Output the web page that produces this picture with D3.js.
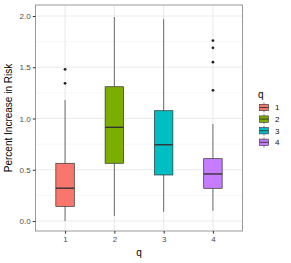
<!DOCTYPE html>
<html>
<head>
<meta charset="utf-8">
<script src="https://cdn.jsdelivr.net/npm/d3@7"></script>
<style>
  body { margin: 0; background: #fff; }
  text { font-family: "Liberation Sans", Arial, sans-serif; font-weight: normal; }
</style>
</head>
<body>
<div id="chart"></div>
<script>
const categories = ['1', '2', '3', '4']
const colors = ['#F8766D', '#7CAE00', '#00BFC4', '#C77CFF']
// five-number summaries: [low whisker, q1, median, q3, high whisker]
const lowWhisker = [0.0, 0.05, 0.09, 0.10]
const q1 = [0.143, 0.563, 0.449, 0.319]
const median = [0.32, 0.914, 0.744, 0.459]
const q3 = [0.563, 1.31, 1.076, 0.608]
const highWhisker = [1.18, 1.99, 1.97, 0.946]
const outliers = [[1.343, 1.48], [], [], [1.275, 1.55, 1.69, 1.76]]
const yTicks = [0, 0.5, 1, 1.5, 2]
const yMinor = [0.25, 0.75, 1.25, 1.75]

const width = 291
const height = 263
const panel = { left: 35.5, right: 242.5, top: 5, bottom: 231 }

const svg = d3.select('#chart').append('svg')
    .attr('width', width)
    .attr('height', height)

const x = d3.scaleLinear()
    .domain([0.4, 4.6])
    .range([panel.left, panel.right])

const y = d3.scaleLinear()
    .domain([0, 2])
    .range([221, 16])

const boxW = x(1.375) - x(1)

// gridlines
const grid = svg.append('g')
grid.selectAll('.minor')
    .data(yMinor)
    .enter().append('line')
    .attr('x1', panel.left).attr('x2', panel.right)
    .attr('y1', d => y(d)).attr('y2', d => y(d))
    .attr('stroke', '#f2f2f2').attr('stroke-width', 0.6)
grid.selectAll('.major')
    .data(yTicks)
    .enter().append('line')
    .attr('x1', panel.left).attr('x2', panel.right)
    .attr('y1', d => y(d)).attr('y2', d => y(d))
    .attr('stroke', '#ebebeb').attr('stroke-width', 1.1)
grid.selectAll('.vmajor')
    .data(categories)
    .enter().append('line')
    .attr('x1', (d, i) => x(i + 1)).attr('x2', (d, i) => x(i + 1))
    .attr('y1', panel.top).attr('y2', panel.bottom)
    .attr('stroke', '#ebebeb').attr('stroke-width', 1.1)

// boxes
const boxes = svg.append('g')
    .selectAll('g')
    .data(categories)
    .enter().append('g')

boxes.append('line')
    .attr('x1', (d, i) => x(i + 1)).attr('x2', (d, i) => x(i + 1))
    .attr('y1', (d, i) => y(highWhisker[i])).attr('y2', (d, i) => y(q3[i]))
    .attr('stroke', '#333').attr('stroke-width', 0.7)
boxes.append('line')
    .attr('x1', (d, i) => x(i + 1)).attr('x2', (d, i) => x(i + 1))
    .attr('y1', (d, i) => y(lowWhisker[i])).attr('y2', (d, i) => y(q1[i]))
    .attr('stroke', '#333').attr('stroke-width', 0.7)
boxes.append('rect')
    .attr('x', (d, i) => x(i + 1) - boxW / 2)
    .attr('width', boxW)
    .attr('y', (d, i) => y(q3[i]))
    .attr('height', (d, i) => y(q1[i]) - y(q3[i]))
    .attr('fill', (d, i) => colors[i])
    .attr('stroke', '#333').attr('stroke-width', 0.7)
boxes.append('line')
    .attr('x1', (d, i) => x(i + 1) - boxW / 2).attr('x2', (d, i) => x(i + 1) + boxW / 2)
    .attr('y1', (d, i) => y(median[i])).attr('y2', (d, i) => y(median[i]))
    .attr('stroke', '#333').attr('stroke-width', 1.4)
boxes.each(function(d, i) {
    d3.select(this).selectAll('circle')
        .data(outliers[i])
        .enter().append('circle')
        .attr('cx', x(i + 1))
        .attr('cy', v => y(v))
        .attr('r', 1.4)
        .attr('fill', '#222')
})

// panel border
svg.append('rect')
    .attr('x', panel.left).attr('y', panel.top)
    .attr('width', panel.right - panel.left)
    .attr('height', panel.bottom - panel.top)
    .attr('fill', 'none')
    .attr('stroke', '#999').attr('stroke-width', 1)

// axes
const yAxis = svg.append('g')
    .attr('transform', `translate(${panel.left},0)`)
    .call(d3.axisLeft(y).tickValues(yTicks).tickFormat(d3.format('.1f')).tickSize(2.7).tickPadding(2.2))
yAxis.select('.domain').remove()
yAxis.selectAll('line').attr('stroke', '#333')
yAxis.selectAll('text').attr('fill', '#4d4d4d').style('font-size', '8px')

const xAxis = svg.append('g')
    .attr('transform', `translate(0,${panel.bottom})`)
    .call(d3.axisBottom(x).tickValues([1, 2, 3, 4]).tickFormat((d, i) => categories[i]).tickSize(2.7).tickPadding(2.2))
xAxis.select('.domain').remove()
xAxis.selectAll('line').attr('stroke', '#333')
xAxis.selectAll('text').attr('fill', '#4d4d4d').style('font-size', '8px')

// titles
svg.append('text')
    .attr('x', x(2.5)).attr('y', 256)
    .attr('text-anchor', 'middle')
    .attr('fill', '#000')
    .style('font-size', '10px')
    .text('q')

svg.append('text')
    .attr('transform', `translate(11.5,${(panel.top + panel.bottom) / 2}) rotate(-90)`)
    .attr('text-anchor', 'middle')
    .attr('fill', '#000')
    .style('font-size', '10px')
    .text('Percent Increase in Risk')

// legend
const legend = svg.append('g')
    .attr('transform', 'translate(258,0)')
legend.append('text')
    .attr('x', 0).attr('y', 98)
    .attr('fill', '#000')
    .style('font-size', '10px')
    .text('q')

const keys = legend.selectAll('.key')
    .data(categories)
    .enter().append('g')
    .attr('transform', (d, i) => `translate(0,${107.5 + i * 11.6})`)
keys.append('line')
    .attr('x1', 6).attr('x2', 6).attr('y1', -5).attr('y2', 5)
    .attr('stroke', '#333').attr('stroke-width', 0.6)
keys.append('rect')
    .attr('x', 1.5).attr('y', -3.2)
    .attr('width', 9).attr('height', 6.4)
    .attr('fill', (d, i) => colors[i])
    .attr('stroke', '#333').attr('stroke-width', 0.6)
keys.append('line')
    .attr('x1', 1.5).attr('x2', 10.5).attr('y1', 0).attr('y2', 0)
    .attr('stroke', '#333').attr('stroke-width', 0.9)
keys.append('text')
    .attr('x', 17).attr('y', 2.8)
    .style('font-size', '8px')
    .attr('fill', '#111')
    .text(d => d)
</script>
</body>
</html>
